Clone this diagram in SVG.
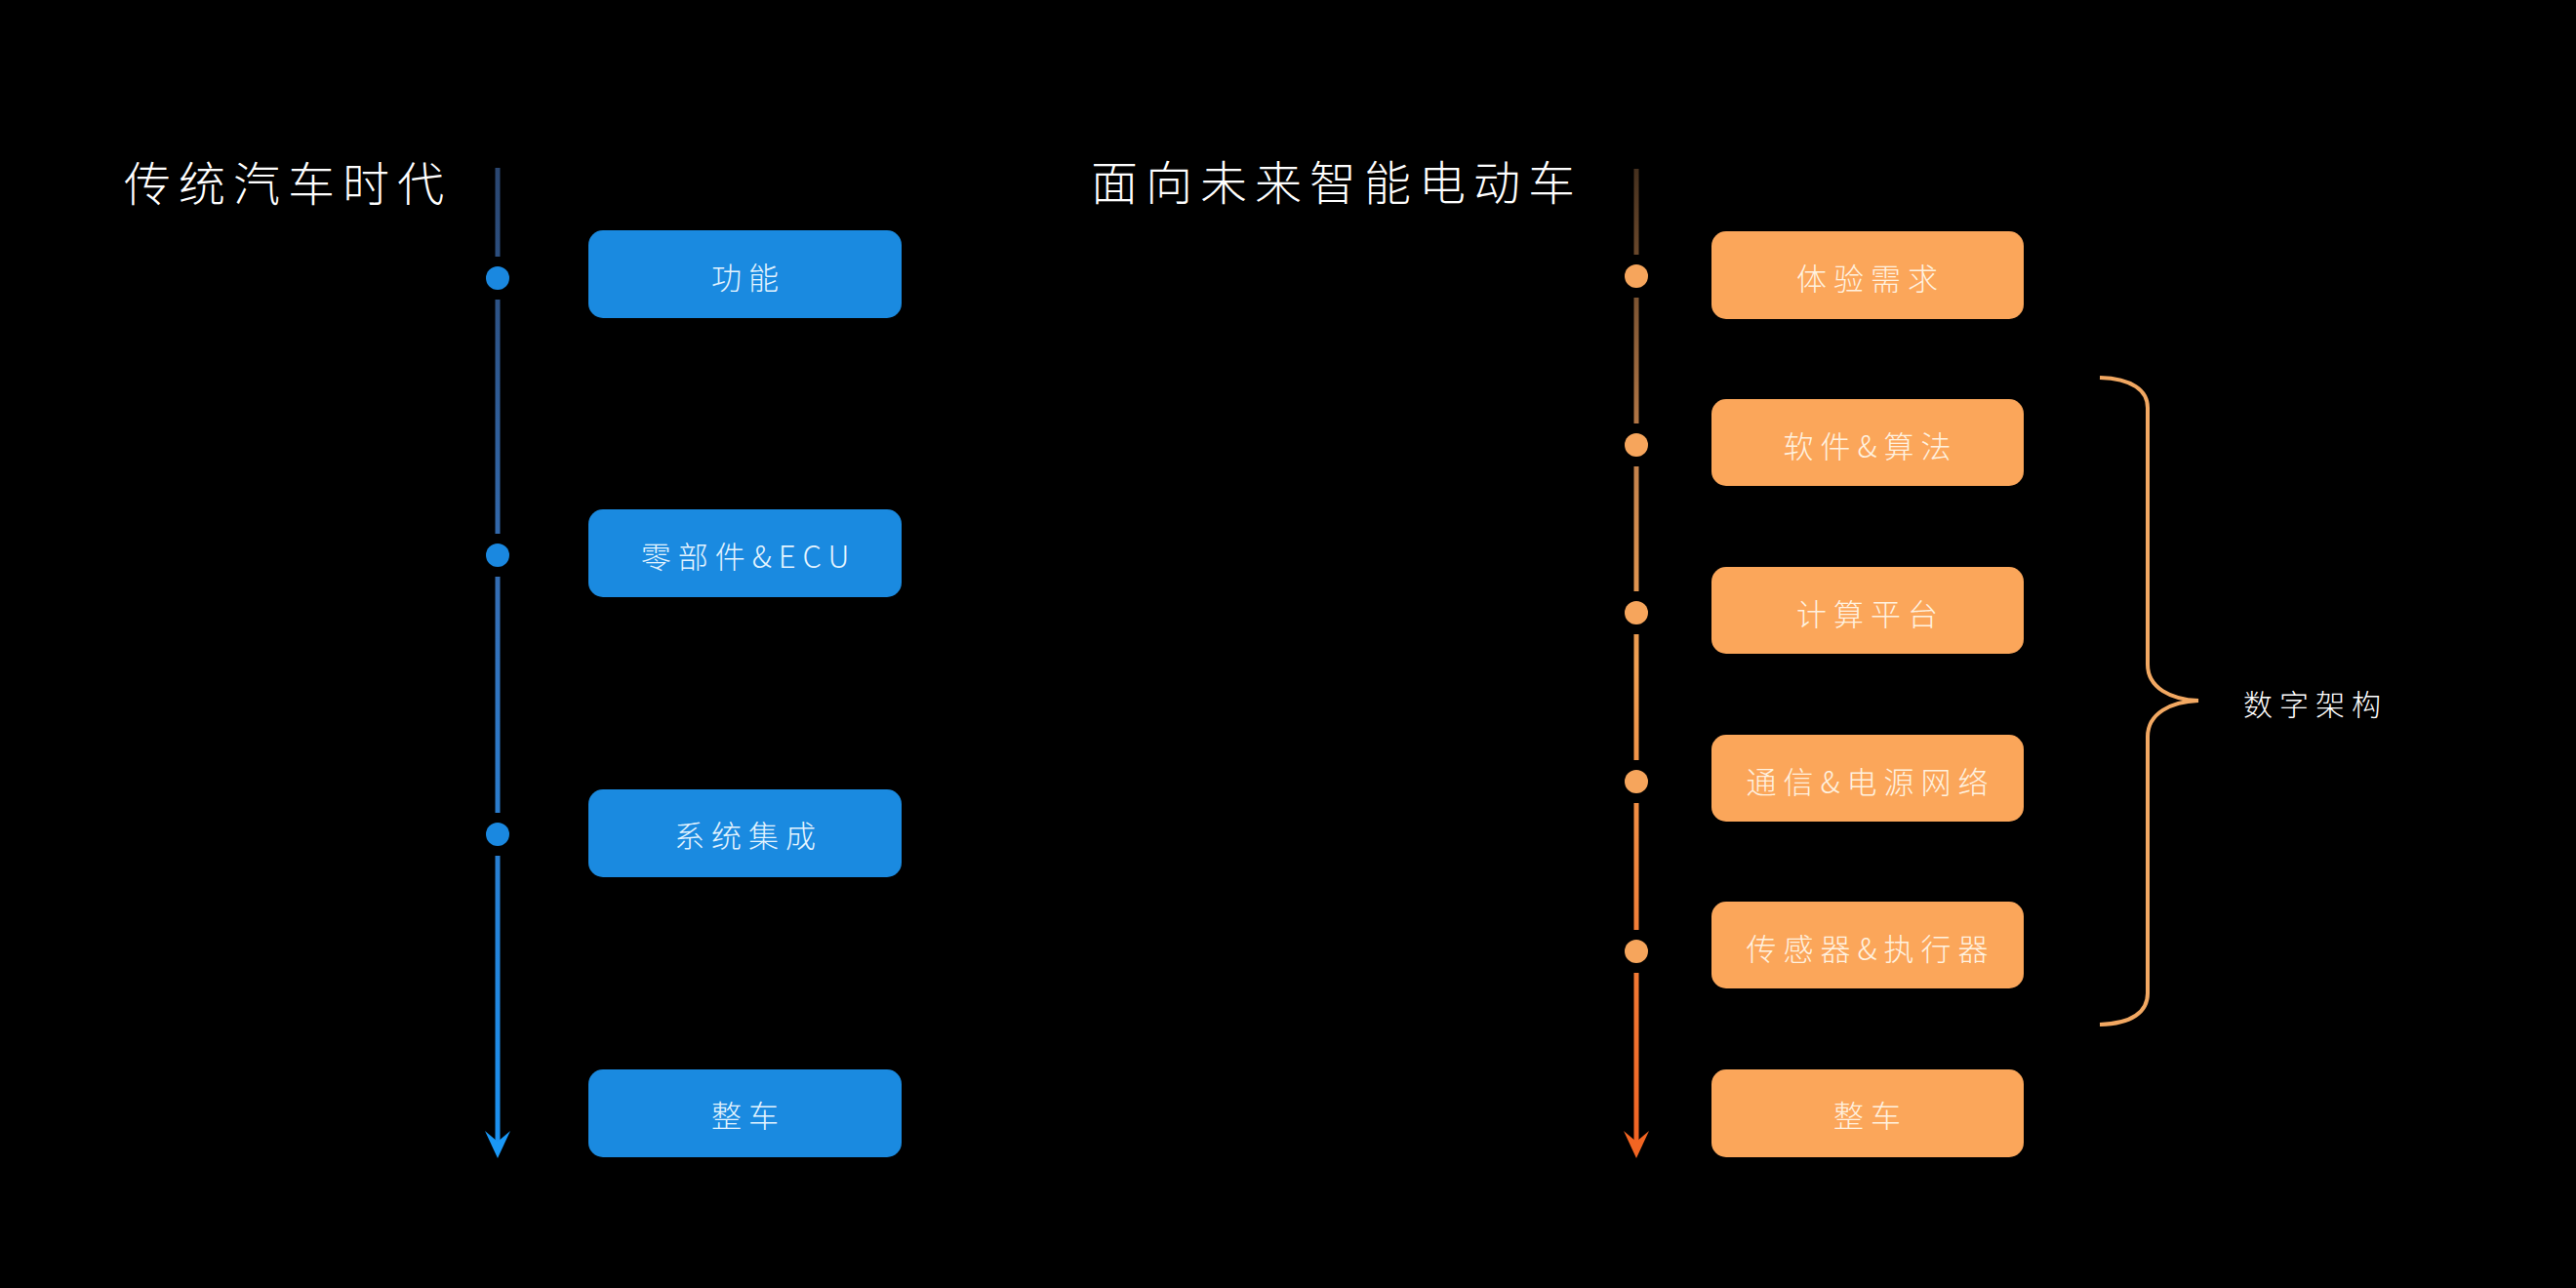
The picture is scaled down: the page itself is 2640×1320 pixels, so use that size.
<svg xmlns="http://www.w3.org/2000/svg" width="2640" height="1320" viewBox="0 0 2640 1320">
<style>
.title{font-family:"Noto Sans CJK SC","Noto Sans",sans-serif;font-weight:300;font-size:48px;fill:#ffffff;dominant-baseline:central}
.lbl{font-family:"Noto Sans CJK SC","Noto Sans",sans-serif;font-weight:300;font-size:31px;letter-spacing:7px;text-anchor:middle;dominant-baseline:central}
.bbox{fill:#1a8ae0}
.obox{fill:#fba65a}
.btxt{fill:#e4f4ff}
.otxt{fill:#fff2e0}
.side{font-family:"Noto Sans CJK SC","Noto Sans",sans-serif;font-weight:300;font-size:30px;letter-spacing:7px;fill:#ffffff;dominant-baseline:central}
</style>
<defs>
<linearGradient id="gb" gradientUnits="userSpaceOnUse" x1="0" y1="172" x2="0" y2="1187">
<stop offset="0" stop-color="#2a4670"/>
<stop offset="0.45" stop-color="#3470b8"/>
<stop offset="1" stop-color="#1a92f2"/>
</linearGradient>
<linearGradient id="go" gradientUnits="userSpaceOnUse" x1="0" y1="173" x2="0" y2="1187">
<stop offset="0" stop-color="#45301e"/>
<stop offset="0.3" stop-color="#c4824c"/>
<stop offset="0.5" stop-color="#f2a052"/>
<stop offset="1" stop-color="#f26222"/>
</linearGradient>
</defs>
<rect x="0" y="0" width="2640" height="1320" fill="#000000"/>
<text class="title" x="127" y="185" letter-spacing="8">传统汽车时代</text>
<text class="title" x="1118" y="184" letter-spacing="8">面向未来智能电动车</text>
<g id="connectors">
<g stroke="url(#gb)" stroke-width="5" fill="none">
<line x1="510" y1="172" x2="510" y2="263"/>
<line x1="510" y1="307" x2="510" y2="547"/>
<line x1="510" y1="591" x2="510" y2="833"/>
<line x1="510" y1="877" x2="510" y2="1172"/>
</g>
<polygon points="510,1187 497,1159 510,1170 523,1159" fill="#1a98f6"/>
<g fill="#1a88e0">
<circle cx="510" cy="285" r="12"/>
<circle cx="510" cy="569" r="12"/>
<circle cx="510" cy="855" r="12"/>
</g>
<g stroke="url(#go)" stroke-width="5" fill="none">
<line x1="1677" y1="173" x2="1677" y2="261"/>
<line x1="1677" y1="305" x2="1677" y2="434"/>
<line x1="1677" y1="478" x2="1677" y2="606"/>
<line x1="1677" y1="650" x2="1677" y2="779"/>
<line x1="1677" y1="823" x2="1677" y2="953"/>
<line x1="1677" y1="997" x2="1677" y2="1172"/>
</g>
<polygon points="1677,1187 1664,1159 1677,1170 1690,1159" fill="#f26522"/>
<g fill="#f6a55c">
<circle cx="1677" cy="283" r="12"/>
<circle cx="1677" cy="456" r="12"/>
<circle cx="1677" cy="628" r="12"/>
<circle cx="1677" cy="801" r="12"/>
<circle cx="1677" cy="975" r="12"/>
</g>
<path d="M2152,387 C2185,388 2201,400 2201,418 L2201,681 C2201,705 2225,717 2253,718 C2225,719 2201,731 2201,755 L2201,1018 C2201,1037 2185,1049 2152,1050" fill="none" stroke="#f2a862" stroke-width="4"/>
</g>
<g id="n-gongneng"><rect class="bbox" x="603" y="236" width="321" height="90" rx="15"/><text class="lbl btxt" x="767" y="282">功能</text></g>
<g id="n-lingbujian"><rect class="bbox" x="603" y="522" width="321" height="90" rx="15"/><text class="lbl btxt" x="767" y="568">零部件&amp;ECU</text></g>
<g id="n-xitong"><rect class="bbox" x="603" y="809" width="321" height="90" rx="15"/><text class="lbl btxt" x="767" y="854">系统集成</text></g>
<g id="n-zhengche-l"><rect class="bbox" x="603" y="1096" width="321" height="90" rx="15"/><text class="lbl btxt" x="767" y="1141">整车</text></g>
<g id="n-tiyan"><rect class="obox" x="1754" y="237" width="320" height="90" rx="15"/><text class="lbl otxt" x="1917" y="283">体验需求</text></g>
<g id="n-ruanjian"><rect class="obox" x="1754" y="409" width="320" height="89" rx="15"/><text class="lbl otxt" x="1917" y="455">软件&amp;算法</text></g>
<g id="n-jisuan"><rect class="obox" x="1754" y="581" width="320" height="89" rx="15"/><text class="lbl otxt" x="1917" y="627">计算平台</text></g>
<g id="n-tongxin"><rect class="obox" x="1754" y="753" width="320" height="89" rx="15"/><text class="lbl otxt" x="1917" y="799">通信&amp;电源网络</text></g>
<g id="n-chuanganqi"><rect class="obox" x="1754" y="924" width="320" height="89" rx="15"/><text class="lbl otxt" x="1917" y="970">传感器&amp;执行器</text></g>
<g id="n-zhengche-r"><rect class="obox" x="1754" y="1096" width="320" height="90" rx="15"/><text class="lbl otxt" x="1917" y="1141">整车</text></g>
<g id="n-shuzi"><text class="side" x="2299" y="720">数字架构</text></g>
</svg>
